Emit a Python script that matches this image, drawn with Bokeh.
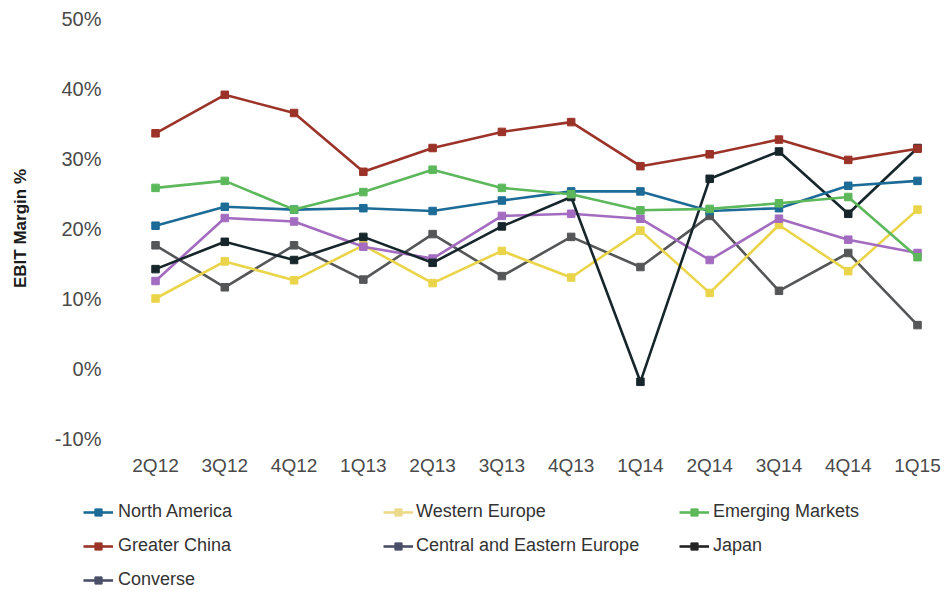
from bokeh.plotting import figure
from bokeh.layouts import column
from bokeh.models import (FixedTicker, PrintfTickFormatter, Legend, LegendItem,
                          ColumnDataSource)
from bokeh.embed import file_html
from bokeh.resources import INLINE

quarters = ["2Q12", "3Q12", "4Q12", "1Q13", "2Q13", "3Q13", "4Q13",
            "1Q14", "2Q14", "3Q14", "4Q14", "1Q15"]

north_america = [20.4, 23.1, 22.7, 22.9, 22.5, 24.0, 25.3, 25.3, 22.5, 22.9, 26.1, 26.8]
western_europe = [10.0, 15.3, 12.6, 17.6, 12.2, 16.8, 13.0, 19.7, 10.8, 20.5, 13.9, 22.7]
emerging_markets = [25.8, 26.8, 22.7, 25.2, 28.4, 25.8, 24.9, 22.6, 22.8, 23.6, 24.5, 15.9]
greater_china = [33.6, 39.1, 36.5, 28.1, 31.5, 33.8, 35.2, 28.9, 30.6, 32.7, 29.8, 31.4]
central_eastern_europe = [12.5, 21.5, 21.0, 17.4, 15.7, 21.8, 22.1, 21.4, 15.5, 21.4, 18.4, 16.5]
japan = [14.2, 18.1, 15.5, 18.8, 15.1, 20.3, 24.5, -1.9, 27.1, 31.0, 22.1, 31.5]
converse = [17.6, 11.6, 17.6, 12.7, 19.2, 13.2, 18.8, 14.5, 21.8, 11.1, 16.5, 6.2]

y_ticks = [-10, 0, 10, 20, 30, 40, 50]

series = [
    ("North America", north_america, "#1d6b97", "#1d6b97"),
    ("Western Europe", western_europe, "#ead44a", "#ecd98a"),
    ("Emerging Markets", emerging_markets, "#5cb85a", "#5cb85a"),
    ("Greater China", greater_china, "#9b3328", "#9b3328"),
    ("Central and Eastern Europe", central_eastern_europe, "#a36cc0", "#4b4f68"),
    ("Japan", japan, "#16262b", "#222222"),
    ("Converse", converse, "#555658", "#4b4f68"),
]
draw_order = [6, 1, 4, 5, 0, 2, 3]

xs = list(range(len(quarters)))
FONT = "Liberation Sans"
LEFT = 80

# ---- main chart ----
p = figure(width=944, height=480, output_backend="svg", toolbar_location=None,
           x_range=(-1.083, 11.274), y_range=(-10, 50),
           min_border_left=LEFT, min_border_right=8, min_border_top=18,
           min_border_bottom=42)
p.outline_line_color = None
p.xgrid.visible = False
p.ygrid.visible = False

p.yaxis.ticker = FixedTicker(ticks=y_ticks)
p.yaxis.formatter = PrintfTickFormatter(format="%d%%")
p.xaxis.ticker = FixedTicker(ticks=xs)
p.xaxis.major_label_overrides = {i: q for i, q in enumerate(quarters)}

for ax in (p.xaxis, p.yaxis):
    ax.axis_line_color = None
    ax.major_tick_line_color = None
    ax.minor_tick_line_color = None
    ax.major_tick_out = 0
    ax.major_tick_in = 0
    ax.major_label_text_font = FONT
    ax.major_label_text_color = "#4a4a4a"

p.xaxis.major_label_text_font_size = "19px"
p.xaxis.major_label_standoff = 16
p.yaxis.major_label_text_font_size = "20px"
p.yaxis.major_label_standoff = -21
p.yaxis.axis_label = "EBIT Margin %"
p.yaxis.axis_label_text_font = FONT
p.yaxis.axis_label_text_font_style = "bold"
p.yaxis.axis_label_text_font_size = "17px"
p.yaxis.axis_label_text_color = "#1a1a1a"
p.yaxis.axis_label_standoff = 22

for idx in draw_order:
    name, vals, color, _ = series[idx]
    src = ColumnDataSource(dict(x=xs, y=vals))
    p.line("x", "y", source=src, line_color=color, line_width=2.6)
    p.scatter("x", "y", source=src, marker="square", size=7.5,
              fill_color=color, line_color=color)

# ---- legend strip ----
lg = figure(width=944, height=110, output_backend="svg", toolbar_location=None,
            x_range=(0, 1), y_range=(0, 1), x_axis_type=None, y_axis_type=None,
            min_border=0)
lg.outline_line_color = None
lg.xgrid.visible = False
lg.ygrid.visible = False

items = []
for name, _, _, lcolor in series:
    proxy = ColumnDataSource(dict(x=[float("nan")], y=[float("nan")]))
    r1 = lg.line("x", "y", source=proxy, line_color=lcolor, line_width=2.6)
    r2 = lg.scatter("x", "y", source=proxy, marker="square", size=6,
                    fill_color=lcolor, line_color=lcolor)
    items.append(LegendItem(label=name, renderers=[r1, r2]))

legend_columns = [([0, 3, 6], (83 - LEFT, 0), 5),
                  ([1, 4], (383 - LEFT, 34), 3),
                  ([2, 5], (679 - LEFT, 34), 4)]
for idxs, loc, stand in legend_columns:
    leg = Legend(items=[items[i] for i in idxs], location=loc,
                 orientation="vertical", padding=0, margin=0, spacing=13,
                 glyph_width=30, glyph_height=18, label_height=18,
                 label_standoff=stand, label_text_font=FONT,
                 label_text_font_size="18px", label_text_color="#333333",
                 border_line_color=None, background_fill_alpha=0)
    lg.add_layout(leg, "center")

open("out.html", "w").write(file_html(column(p, lg), INLINE))
